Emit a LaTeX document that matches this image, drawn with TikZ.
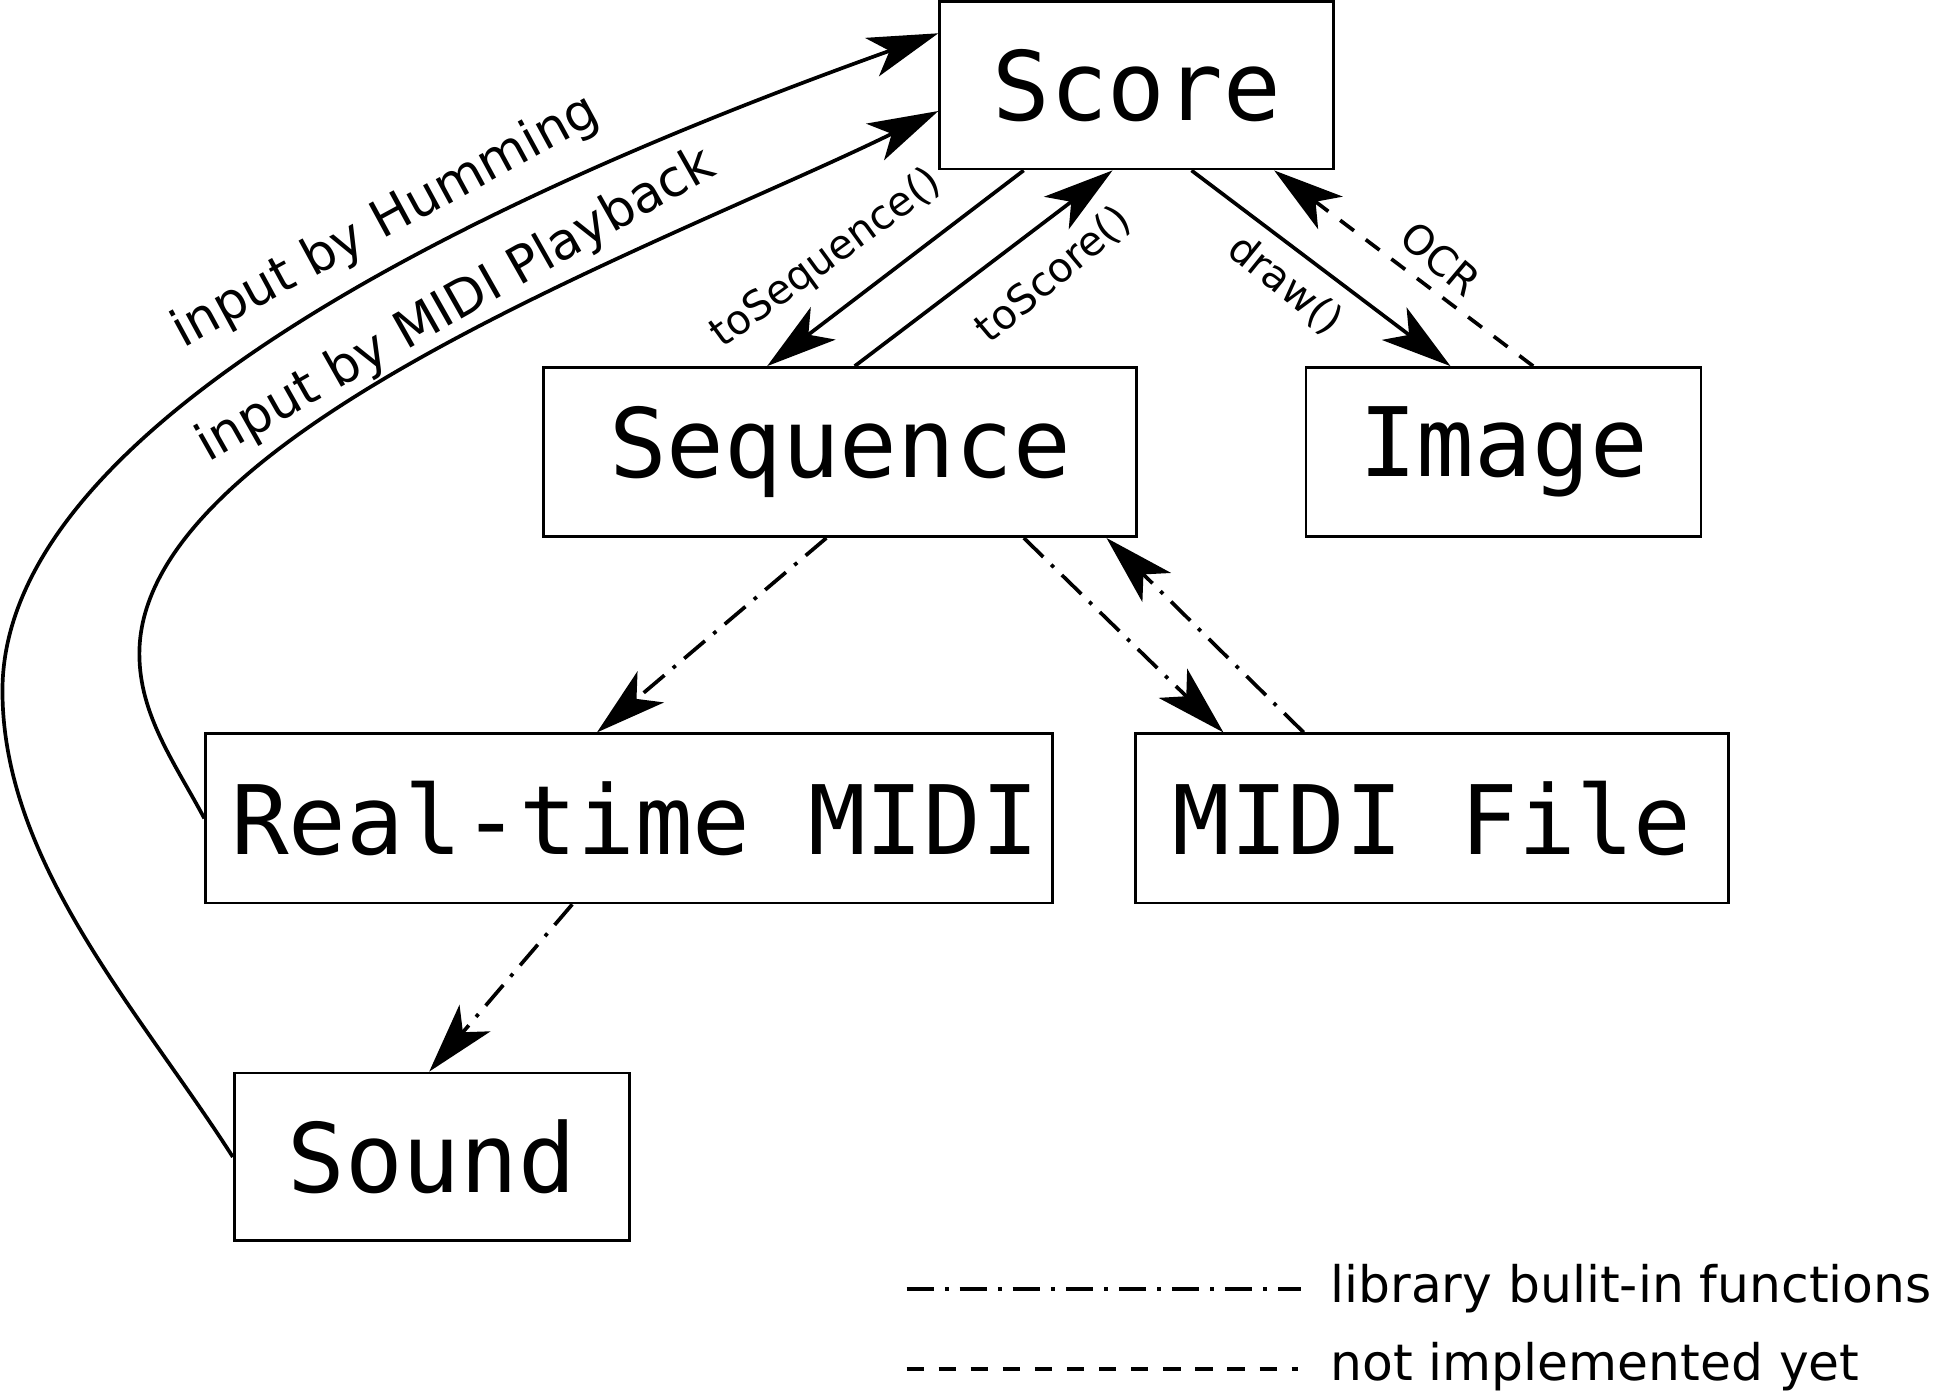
\documentclass[tikz,border=0pt]{standalone}
\usepackage{fontspec}
\setmainfont{DejaVu Sans}
\newfontfamily\boxfont{DejaVu Sans Mono}
\usetikzlibrary{arrows.meta}
\begin{document}
\begin{tikzpicture}[x=0.01cm,y=-0.01cm,
  blk/.style={draw,line width=0.65pt,inner sep=0pt,font=\boxfont\fontsize{22.1pt}{27pt}\selectfont},
  conn/.style={line width=0.85pt,-{Stealth[length=0.57cm,width=0.33cm,inset=0.15cm]}},
  dashdot/.style={dash pattern=on 0.22cm off 0.09cm on 0.03cm off 0.09cm},
  notyet/.style={dash pattern=on 0.14cm off 0.12cm},
  biglab/.style={font=\fontsize{11.8pt}{14pt}\selectfont,inner sep=0pt},
  smalllab/.style={font=\fontsize{9.4pt}{11pt}\selectfont,inner sep=0pt},
  leglab/.style={font=\fontsize{11.6pt}{14pt}\selectfont,inner sep=0pt,anchor=west}]
\useasboundingbox (0,0) rectangle (1568,1130);
\node[blk,minimum width=3.19cm,minimum height=1.36cm] (score) at (921.5,69) {Score};
\node[blk,minimum width=4.80cm,minimum height=1.37cm] (seq) at (681,366.5) {Sequence};
\node[blk,minimum width=3.20cm,minimum height=1.37cm] (image) at (1219,366.5) {Image};
\node[blk,minimum width=6.86cm,minimum height=1.37cm] (rt) at (510,663.5) {\hspace{0.1cm}Real-time MIDI};
\node[blk,minimum width=4.80cm,minimum height=1.37cm] (mf) at (1161,663.5) {MIDI File\hspace{0.1cm}};
\node[blk,minimum width=3.20cm,minimum height=1.36cm] (sound) at (350,938) {Sound};
% solid
\draw[conn] ([xshift=-0.915cm]score.south) -- ([xshift=-0.59cm]seq.north);
\draw[conn] ([xshift=0.12cm]seq.north) -- ([xshift=-0.195cm]score.south);
\draw[conn] ([xshift=0.445cm]score.south) -- ([xshift=-0.43cm]image.north);
\draw[conn,notyet] ([xshift=0.24cm]image.north) -- ([xshift=1.115cm]score.south);
% dash-dot
\draw[conn,dashdot] ([xshift=-0.11cm]seq.south) -- ([xshift=-0.26cm]rt.north);
\draw[conn,dashdot] ([xshift=1.49cm]seq.south) -- ([xshift=-1.69cm]mf.north);
\draw[conn,dashdot] ([xshift=-1.04cm]mf.north) -- ([xshift=2.16cm]seq.south);
\draw[conn,dashdot] ([xshift=-0.46cm]rt.south) -- ([xshift=-0.02cm]sound.north);
% curves
\draw[conn] (sound.west) .. controls (114,821) and (2,700) .. (2,560)
  .. controls (2,310) and (530,110) .. ([yshift=0.42cm]score.west);
\draw[conn] (rt.west) .. controls (142,619) and (113,580) .. (113,530)
  .. controls (113,350) and (540,198) .. ([yshift=-0.21cm]score.west);
% labels
\node[biglab,rotate=28.5] (lh) at (313,180) {input by Humming};
\node[biglab,rotate=29.5] (lm) at (370,248) {input by MIDI Playback};
\node[smalllab,rotate=36] (lts) at (670,210) {toSequence()};
\node[smalllab,rotate=40] (ltc) at (854,223) {toScore()};
\node[smalllab,rotate=-39] (ld) at (1042,231) {draw()};
\node[smalllab,rotate=-40] (lo) at (1168,210) {OCR};
% legend
\coordinate (la) at (735,1045);
\coordinate (lb) at (1055,1045);
\coordinate (lc) at (735,1110);
\coordinate (ld2) at (1052,1110);
\draw[line width=0.85pt,dashdot] (la) -- (lb);
\draw[line width=0.85pt,notyet] (lc) -- (ld2);
\node[leglab] (lt1) at (1078,1045) {library bulit-in functions};
\node[leglab] (lt2) at (1078,1108) {not implemented yet};
\end{tikzpicture}
\end{document}
